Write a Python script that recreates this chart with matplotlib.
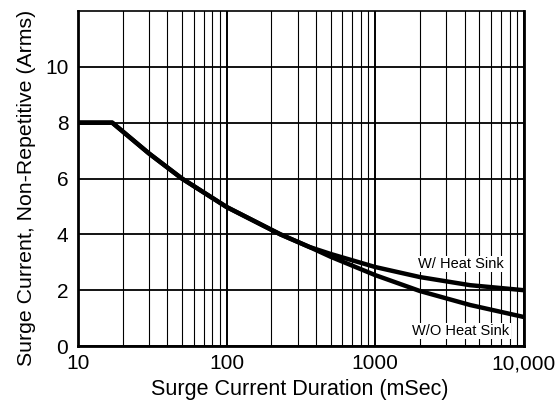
import numpy as np
import matplotlib.pyplot as plt
from matplotlib.ticker import FixedLocator, NullFormatter

plt.rcParams['font.family'] = ['Liberation Sans', 'DejaVu Sans']

# surge current vs duration
dur_hs = [10, 17, 30, 50, 100, 230, 360, 500, 1000, 2000, 4350, 10000]
amp_hs = [8, 8, 6.9, 6.0, 4.98, 4.0, 3.55, 3.3, 2.83, 2.47, 2.18, 2.0]
dur_nohs = [10, 17, 30, 50, 100, 230, 360, 500, 1000, 2000, 4350, 10000]
amp_nohs = [8, 8, 6.9, 6.0, 4.98, 4.0, 3.55, 3.2, 2.54, 1.97, 1.47, 1.04]

xticks = [10, 100, 1000, 10000]
xlabels = ['10', '100', '1000', '10,000']
yticks = [0, 2, 4, 6, 8, 10]

fig = plt.figure(figsize=(5.55, 4.01), dpi=100)
ax = fig.add_axes([0.1405, 0.137, 0.8035, 0.8356])

ax.set_xscale('log')
ax.set_xlim(10, 10000)
ax.set_ylim(0, 12)

minors = [m * 10**d for d in range(1, 4) for m in range(2, 10)]
ax.xaxis.set_major_locator(FixedLocator(xticks))
ax.xaxis.set_minor_locator(FixedLocator(minors))
ax.xaxis.set_minor_formatter(NullFormatter())
ax.set_xticklabels(xlabels)
ax.set_yticks(yticks)

ax.grid(True, which='major', axis='x', color='black', lw=1.4)
ax.grid(True, which='minor', axis='x', color='black', lw=0.8)
ax.grid(True, which='major', axis='y', color='black', lw=1.3)
ax.tick_params(which='both', length=0, labelsize=15)
ax.tick_params(axis='x', pad=6)
ax.tick_params(axis='y', pad=7)

for s in ['left', 'bottom', 'right']:
    ax.spines[s].set_linewidth(2)
ax.spines['top'].set_linewidth(1.2)

ax.plot(dur_hs, amp_hs, color='black', lw=3.2, solid_joinstyle='round', zorder=3)
ax.plot(dur_nohs, amp_nohs, color='black', lw=3.2, solid_joinstyle='round', zorder=3)

ax.text(3770, 2.94, 'W/ Heat Sink', fontsize=10.5, ha='center', va='center',
        bbox=dict(facecolor='white', edgecolor='none', pad=1), zorder=4)
ax.text(3770, 0.54, 'W/O Heat Sink', fontsize=10.5, ha='center', va='center',
        bbox=dict(facecolor='white', edgecolor='none', pad=1), zorder=4)

ax.set_xlabel('Surge Current Duration (mSec)', fontsize=15.5)
ax.set_ylabel('Surge Current, Non-Repetitive (Arms)', fontsize=15.3)
ax.xaxis.set_label_coords(0.498, -0.097)
ax.yaxis.set_label_coords(-0.094, 0.472)

fig.savefig('out.png', dpi=100)
